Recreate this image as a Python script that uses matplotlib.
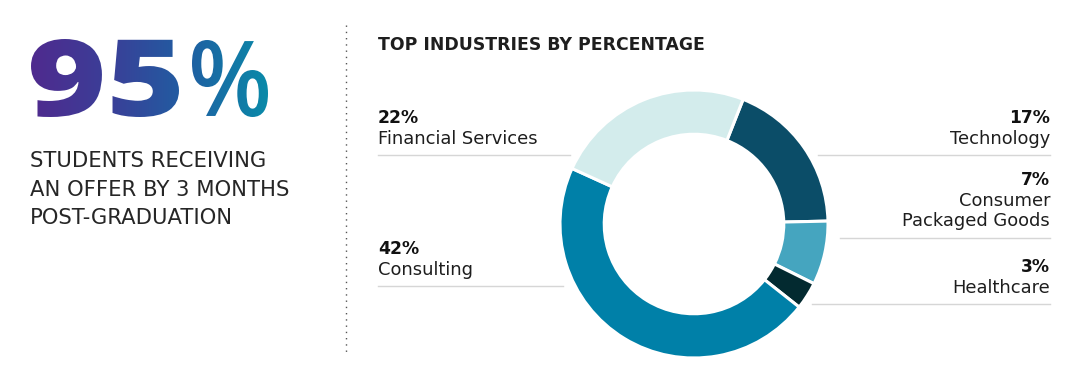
import numpy as np
import matplotlib
matplotlib.use("Agg")
import matplotlib.pyplot as plt
from matplotlib.textpath import TextPath
from matplotlib.patches import PathPatch
from matplotlib.font_manager import FontProperties
from matplotlib.colors import LinearSegmentedColormap
from matplotlib.transforms import Affine2D

# ---- data ----
industries = ["Technology", "Consumer\nPackaged Goods", "Healthcare", "Consulting", "Financial Services"]
percents = [17, 7, 3, 42, 22]
colors = ["#0b4d68", "#45a5bf", "#032a30", "#0080a8", "#d3ecec"]
headline = "95"
headline_pct = "%"
subtitle = ["STUDENTS RECEIVING", "AN OFFER BY 3 MONTHS", "POST-GRADUATION"]
chart_title = "TOP INDUSTRIES BY PERCENTAGE"

W, H = 1082, 386
fig = plt.figure(figsize=(W / 100, H / 100), dpi=100)
fig.patch.set_facecolor("white")
ax = fig.add_axes([0, 0, 1, 1])
ax.set_xlim(0, W)
ax.set_ylim(0, H)
ax.axis("off")

def Y(y):
    return H - y

FAM = "DejaVu Sans"
txtc = "#1e1e1e"

# ---- gradient headline ----
fp_b = FontProperties(family="Open Sans", weight="heavy")
fp_m = FontProperties(family="Open Sans", weight="semibold")

def fitted(s, prop, x_left, x_right, y_top, y_bot):
    tp = TextPath((0, 0), s, size=100, prop=prop)
    b = tp.get_extents()
    sx = (x_right - x_left) / b.width
    sy = (Y(y_top) - Y(y_bot)) / b.height
    t = Affine2D().translate(-b.x0, -b.y0).scale(sx, sy).translate(x_left, Y(y_bot))
    return t.transform_path(tp)

p1 = fitted(headline, fp_b, 31, 179, 39, 117)
p2 = fitted(headline_pct, fp_m, 192, 268, 40, 117)
cmap = LinearSegmentedColormap.from_list("g", ["#4f2a8e", "#3a3f98", "#1f5fa2", "#0a8aa9"])
grad = np.linspace(0, 1, 256).reshape(1, -1)
for p in (p1, p2):
    patch = PathPatch(p, facecolor="none", edgecolor="none")
    ax.add_patch(patch)
    im = ax.imshow(grad, cmap=cmap, extent=[31, 268, Y(125), Y(30)], aspect="auto", zorder=2)
    im.set_clip_path(patch)

for i, line in enumerate(subtitle):
    ax.text(30, Y(161 + i * 28.5), line, fontsize=15.2, family=FAM, color="#262626", va="center", ha="left")

# dotted separator
ax.plot([346, 346], [Y(25), Y(355)], color="#555555", lw=1.0, ls=(0, (1, 3.5)))

ax.text(378, Y(45), chart_title, fontsize=12.4, family=FAM, weight="bold", color=txtc, va="center", ha="left")

# ---- labels ----
lab_fs = 12.9
pct_fs = 12.3
def left_label(pct, name, ytop, xline_end):
    ax.text(378, Y(ytop), f"{pct}%", fontsize=pct_fs, family=FAM, weight="bold", color="#111", va="center", ha="left")
    ax.text(378, Y(ytop + 21), name, fontsize=lab_fs, family=FAM, color=txtc, va="center", ha="left")
    ax.plot([378, xline_end], [Y(ytop + 37), Y(ytop + 37)], color="#d6d6d6", lw=1)

def right_label(pct, name, ytop, xline_start, nlines=1):
    ax.text(1050, Y(ytop), f"{pct}%", fontsize=pct_fs, family=FAM, weight="bold", color="#111", va="center", ha="right")
    for k, ln in enumerate(name.split("\n")):
        ax.text(1050, Y(ytop + 21 + 20.5 * k), ln, fontsize=lab_fs, family=FAM, color=txtc, va="center", ha="right")
    yl = ytop + 37 + 20.5 * (nlines - 1)
    ax.plot([xline_start, 1050], [Y(yl), Y(yl)], color="#d6d6d6", lw=1)

lookup = dict(zip(industries, percents))
left_label(lookup["Financial Services"], "Financial Services", 118, 570)
left_label(lookup["Consulting"], "Consulting", 249, 563)
right_label(lookup["Technology"], "Technology", 118, 818)
right_label(lookup["Consumer\nPackaged Goods"], "Consumer\nPackaged Goods", 180, 840, nlines=2)
right_label(lookup["Healthcare"], "Healthcare", 267, 812)

# ---- donut ----
cx, cy, r = 694, 224, 134
pax = fig.add_axes([(cx - r) / W, (H - cy - r) / H, 2 * r / W, 2 * r / H])
pax.pie(percents, colors=colors, startangle=68.5, counterclock=False, radius=1,
        wedgeprops=dict(width=0.33, edgecolor="white", linewidth=2.2))
pax.set_xlim(-1.0, 1.0)
pax.set_ylim(-1.0, 1.0)
pax.axis("off")

fig.savefig("out.png", dpi=100, facecolor="white")
